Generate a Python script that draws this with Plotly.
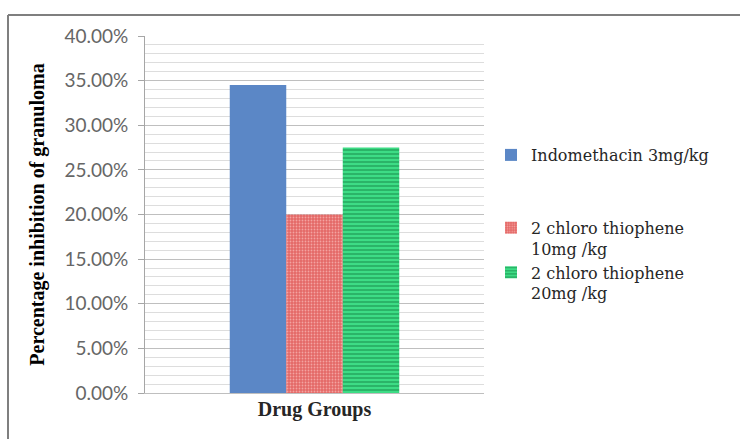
import plotly.graph_objects as go

categories = ["Drug Groups"]
series_names = ["Indomethacin 3mg/kg", "2 chloro thiophene<br>10mg /kg", "2 chloro thiophene<br>20mg /kg"]
series_values = [[0.345], [0.200], [0.275]]
tick_values = [0, 0.05, 0.10, 0.15, 0.20, 0.25, 0.30, 0.35, 0.40]

colors = ["#5B87C6", "#E8706E", "#33CC77"]
patterns = [
    dict(shape=""),
    dict(shape=".", fgcolor="#F4A3A1", bgcolor="#E46866", size=3, solidity=0.3, fillmode="replace"),
    dict(shape="-", fgcolor="#1E9A55", bgcolor="#3DDC85", size=4, solidity=0.3, fillmode="replace"),
]
groups = ["a", "b", "b"]

W, H = 740, 439
L, R, T, B = 145, 484, 36, 393

fig = go.Figure()
for name, vals, c, p, g in zip(series_names, series_values, colors, patterns, groups):
    fig.add_trace(go.Bar(
        x=categories, y=vals, name=name, marker=dict(color=c, pattern=p, line=dict(width=0)),
        legendgroup=g,
    ))

def px(x):
    return (x - L) / (R - L)

def py(y):
    return (B - y) / (B - T)

fig.update_layout(
    width=W, height=H,
    margin=dict(l=L, r=W - R, t=T, b=H - B, autoexpand=False),
    paper_bgcolor="white", plot_bgcolor="white",
    barmode="group", bargap=0.5, bargroupgap=0,
    font=dict(family="Liberation Serif", color="#000"),
    legend=dict(
        x=px(491), y=py(138), xanchor="left", yanchor="top",
        font=dict(family="DejaVu Serif", size=16, color="#262626"),
        valign="top", tracegroupgap=49, traceorder="grouped",
        bgcolor="rgba(0,0,0,0)",
    ),
    xaxis=dict(
        showline=True, linecolor="#BFBFBF", linewidth=1,
        tickfont=dict(family="Liberation Serif", size=20, color="#262626", weight="bold"),
        ticks="", showgrid=False, ticklabelstandoff=-2,
    ),
    yaxis=dict(
        range=[0, 0.40], tickvals=tick_values, tickformat=".2%",
        showline=True, linecolor="#A6A6A6", linewidth=1,
        ticks="outside", ticklen=6, tickcolor="#A6A6A6",
        ticklabelstandoff=6,
        tickfont=dict(family="Lato", size=19, color="#666666"),
        showgrid=True, gridcolor="#BFBFBF", gridwidth=1,
        minor=dict(dtick=0.01, showgrid=True, gridcolor="#DDDDDD", gridwidth=1),
        zeroline=False,
        title=dict(text="Percentage inhibition of granuloma",
                   font=dict(family="Liberation Serif", size=20, color="#000", weight="bold"),
                   standoff=14),
    ),
)

# chart border (top and left edges visible)
fig.add_shape(type="line", xref="paper", yref="paper", x0=px(8), x1=px(745), y0=py(15), y1=py(15),
              line=dict(color="#7F7F7F", width=2))
fig.add_shape(type="line", xref="paper", yref="paper", x0=px(8), x1=px(8), y0=py(15), y1=py(445),
              line=dict(color="#7F7F7F", width=2))

fig.write_html("out.html")
